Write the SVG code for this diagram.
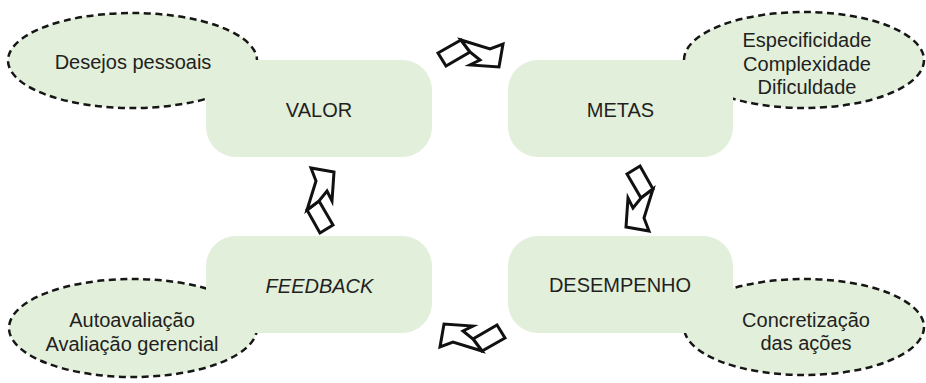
<svg xmlns="http://www.w3.org/2000/svg" width="926" height="383" viewBox="0 0 926 383">
  <style>
    .box { fill: #e2efdb; stroke: none; }
    .note { fill: #e2efdb; stroke: #161616; stroke-width: 2.5; stroke-dasharray: 7 4.5; }
    .lbl { font-family: "Liberation Sans", Arial, sans-serif; font-size: 20px; fill: #231f20; text-anchor: middle; }
    .arrow { fill: #ffffff; stroke: #111111; stroke-width: 3; stroke-linejoin: miter; }
  </style>
  <defs>
    <g id="bentArrow">
      <polygon class="arrow" points="-32,-1 -9,-14 0,-2 -24,12"/>
      <polygon class="arrow" points="-9,-14 20,-5 33,-10 29,13 0,11 10,6 0,-2"/>
    </g>
  </defs>

  <g id="valor">
    <ellipse class="note" cx="132.5" cy="60.5" rx="124.5" ry="47.5"/>
    <text class="lbl" x="133" y="69">Desejos pessoais</text>
    <rect class="box" x="206" y="60" width="226" height="97" rx="30" ry="30"/>
    <text class="lbl" x="319" y="117">VALOR</text>
  </g>

  <g id="metas">
    <ellipse class="note" cx="804" cy="60" rx="120" ry="48"/>
    <text class="lbl" x="807" y="47">Especificidade</text>
    <text class="lbl" x="807" y="70.5">Complexidade</text>
    <text class="lbl" x="807" y="94">Dificuldade</text>
    <rect class="box" x="508" y="60" width="225" height="97" rx="30" ry="30"/>
    <text class="lbl" x="620.5" y="117">METAS</text>
  </g>

  <g id="desempenho">
    <ellipse class="note" cx="804" cy="327" rx="120" ry="48"/>
    <text class="lbl" x="806" y="327">Concretização</text>
    <text class="lbl" x="806" y="350">das ações</text>
    <rect class="box" x="508" y="236" width="225" height="97" rx="30" ry="30"/>
    <text class="lbl" x="620" y="292">DESEMPENHO</text>
  </g>

  <g id="feedback">
    <ellipse class="note" cx="133" cy="328" rx="124" ry="49"/>
    <text class="lbl" x="132" y="327">Autoavaliação</text>
    <text class="lbl" x="132" y="351">Avaliação gerencial</text>
    <rect class="box" x="206" y="236" width="226" height="97" rx="30" ry="30"/>
    <text class="lbl" x="319.5" y="293" font-style="italic">FEEDBACK</text>
  </g>

  <g id="connectors">
    <use href="#bentArrow" transform="translate(470,54)"/>
    <use href="#bentArrow" transform="translate(639,198) rotate(90)"/>
    <use href="#bentArrow" transform="translate(473,337) rotate(180)"/>
    <use href="#bentArrow" transform="translate(321,201) rotate(-90)"/>
  </g>
</svg>
